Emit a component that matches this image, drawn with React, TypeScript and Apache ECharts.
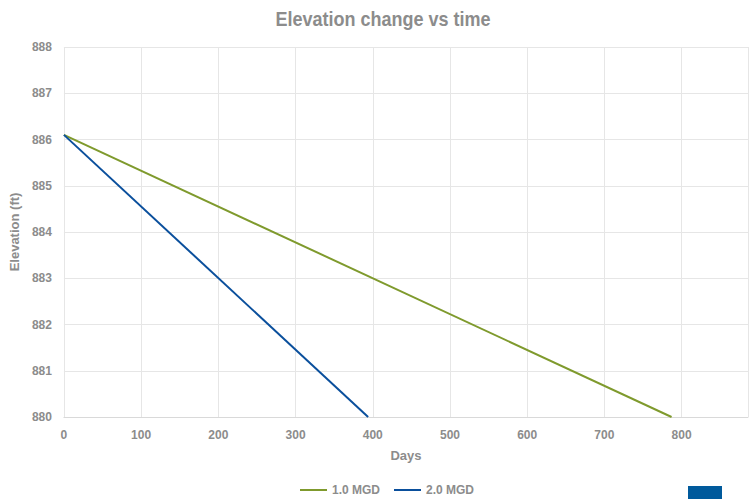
import React, { useEffect, useRef } from "react";
import * as echarts from "echarts";

const titleText = "Elevation change vs time";
const seriesNames = ["1.0 MGD", "2.0 MGD"];
const days1 = [0, 787];
const elev1 = [886.1, 880];
const days2 = [0, 394];
const elev2 = [886.1, 880];
const colors = ["#7f9a2d", "#0a4f9c"];
const FONT = "'Liberation Sans', Arial, sans-serif";

export default function App() {
  const ref = useRef<HTMLDivElement>(null);
  useEffect(() => {
    if (!ref.current) return;
    const chart = echarts.init(ref.current, undefined, { renderer: "svg" });
    const grey = "#8c8c8c";
    chart.setOption({
      animation: false,
      backgroundColor: "#ffffff",
      legend: {
        top: 484,
        left: 300,
        padding: 0,
        itemWidth: 27,
        itemHeight: 2,
        itemGap: 14,
        icon: "rect",
        textStyle: { color: grey, fontSize: 12, fontWeight: "bold", fontFamily: FONT },
        data: seriesNames,
      },
      grid: { left: 62, right: 1, top: 47, bottom: 82, containLabel: false },
      xAxis: {
        type: "value",
        min: 0,
        max: 886,
        interval: 100,
        name: "Days",
        nameLocation: "middle",
        nameGap: 32,
        nameTextStyle: { color: grey, fontSize: 13, fontWeight: "bold", fontFamily: FONT },
        axisLine: { show: true, lineStyle: { color: "#d9d9d9" } },
        axisTick: { show: false },
        axisLabel: {
          color: grey,
          fontSize: 12,
          fontWeight: "bold",
          fontFamily: FONT,
          margin: 12,
          showMaxLabel: false,
          formatter: (v: number) => (v % 100 === 0 ? String(v) : ""),
        },
        splitLine: { show: true, lineStyle: { color: "#e6e6e6" } },
      },
      yAxis: {
        type: "value",
        min: 880,
        max: 888,
        interval: 1,
        name: "Elevation (ft)",
        nameLocation: "middle",
        nameGap: 32,
        nameTextStyle: { color: grey, fontSize: 13, fontWeight: "bold", fontFamily: FONT },
        axisLine: { show: false },
        axisTick: { show: false },
        axisLabel: { color: grey, fontSize: 12, fontWeight: "bold", fontFamily: FONT, margin: 12 },
        splitLine: { show: true, lineStyle: { color: "#e6e6e6" } },
      },
      series: [
        {
          name: seriesNames[0],
          type: "line",
          data: days1.map((d, i) => [d, elev1[i]]),
          showSymbol: false,
          lineStyle: { color: colors[0], width: 2 },
          itemStyle: { color: colors[0] },
        },
        {
          name: seriesNames[1],
          type: "line",
          data: days2.map((d, i) => [d, elev2[i]]),
          showSymbol: false,
          lineStyle: { color: colors[1], width: 2 },
          itemStyle: { color: colors[1] },
        },
      ],
      graphic: [
        {
          type: "text",
          x: 383,
          y: 19,
          scaleX: 0.9,
          style: {
            text: titleText,
            fill: grey,
            font: "bold 20px 'Liberation Sans', Arial, sans-serif",
            textAlign: "center",
            textVerticalAlign: "middle",
          },
        },
        {
          type: "rect",
          left: 688,
          top: 486,
          shape: { width: 34, height: 13 },
          style: { fill: "#005a9c" },
        },
      ],
    });
    return () => chart.dispose();
  }, []);
  return <div ref={ref} style={{ width: 749, height: 499, position: "absolute", left: 0, top: 0 }} />;
}
